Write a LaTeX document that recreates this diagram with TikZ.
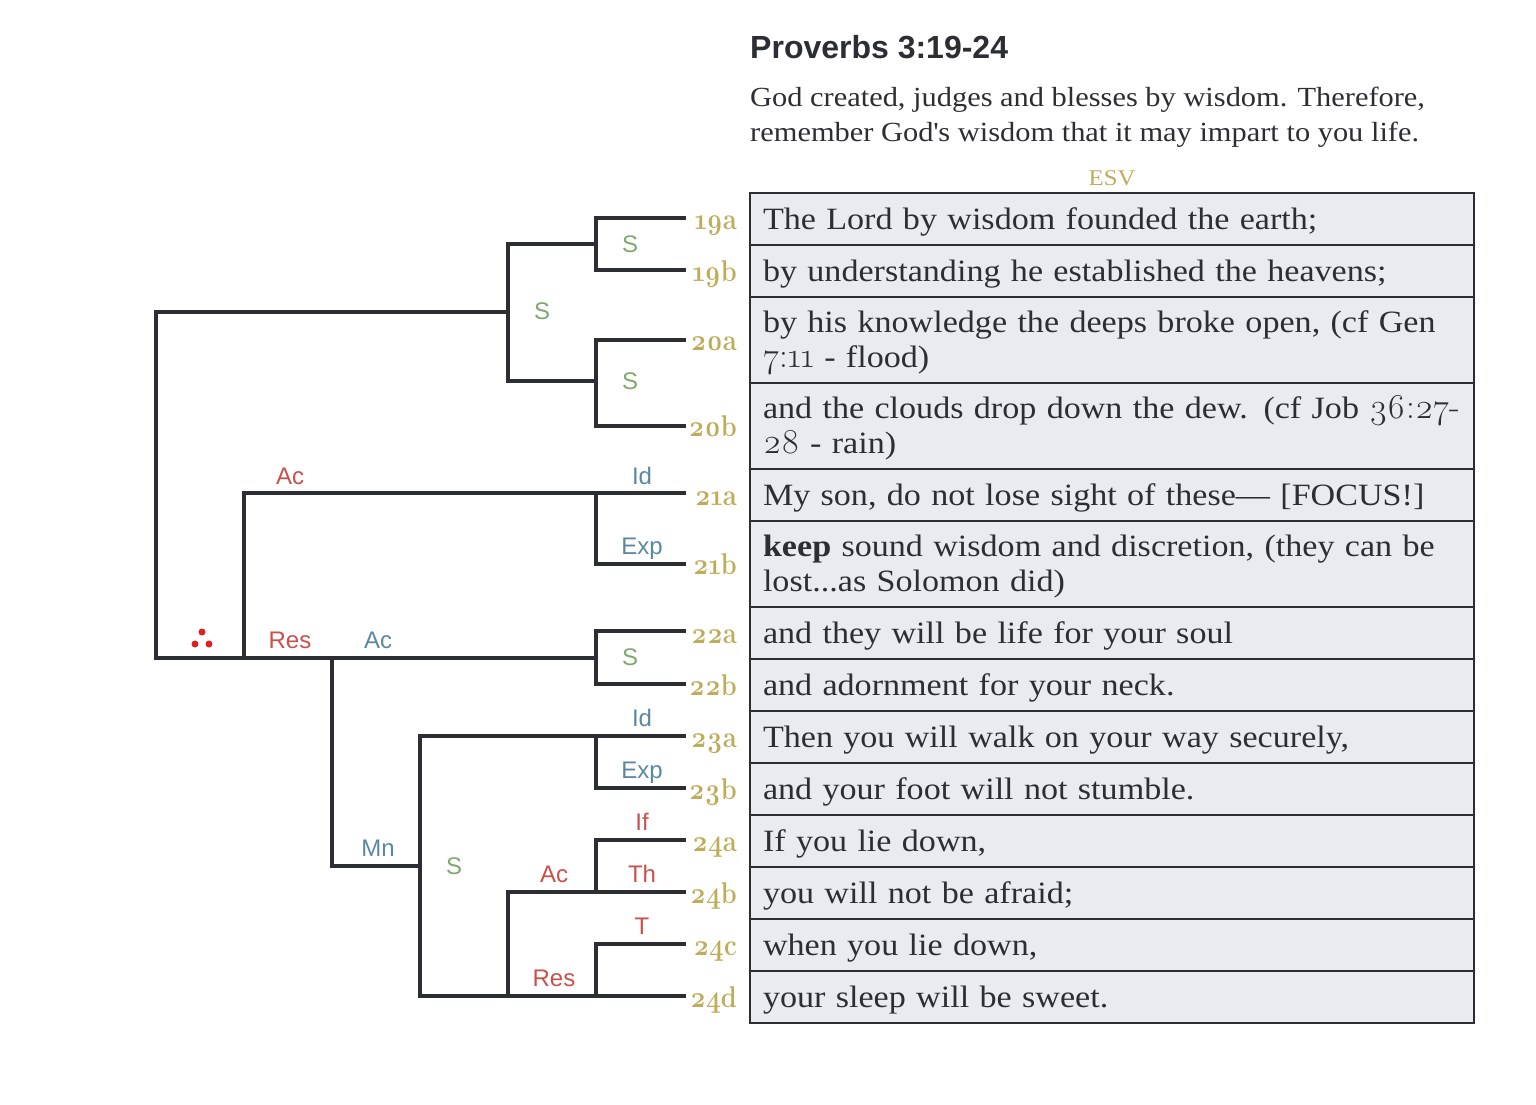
\documentclass[tikz,border=0pt]{standalone}
\usepackage{fontspec}
\usepackage{tikz}
\usetikzlibrary{positioning}
\setmainfont[FakeStretch=1.10]{Liberation Serif}
\setsansfont{Liberation Sans}
\newfontfamily\numfont[Numbers=OldStyle]{Latin Modern Roman}
\newfontfamily\versefont[Numbers=OldStyle,FakeStretch=0.85]{Latin Modern Roman}
\newcommand{\onum}[1]{{\fontsize{35}{35}\selectfont\numfont #1}}
\newcommand{\rowstrutA}{\rule[-2pt]{0pt}{29pt}}
\definecolor{inkdark}{HTML}{2D2E33}
\definecolor{rowfill}{HTML}{E8ECF1}
\definecolor{goldlab}{HTML}{BFAC5A}
\definecolor{redlab}{HTML}{C9504B}
\definecolor{bluelab}{HTML}{5B87A3}
\definecolor{greenlab}{HTML}{7FA86F}
\definecolor{dotred}{HTML}{E02020}
\tikzset{
  versebox/.style={draw=inkdark,fill=rowfill,line width=2pt,outer sep=0pt,inner xsep=13pt,inner ysep=0pt,
    text width=698pt,align=left,text=inkdark,font=\fontsize{31}{35}\selectfont,
    execute at begin node=\rowstrutA,execute at end node=\rowstrutA},
  short/.style={versebox,minimum height=52pt},
  tall/.style={versebox,minimum height=86pt},
  vnum/.style={text=goldlab,font=\fontsize{30}{30}\selectfont\versefont\bfseries,inner sep=0pt,anchor=base east},
  rel/.style={font=\fontsize{24}{26}\selectfont\sffamily,inner sep=0pt},
  redrel/.style={rel,text=redlab},
  bluerel/.style={rel,text=bluelab},
  greenrel/.style={rel,text=greenlab},
  arc/.style={draw=inkdark,line width=3.8pt,line cap=butt,line join=miter}
}
\begin{document}
\begin{tikzpicture}[x=1pt,y=-1pt,node distance=0pt]
  \useasboundingbox (0,0) rectangle (1536,1104);
  % heading
  \node[anchor=base west,inner sep=0pt,text=inkdark,font=\fontsize{32}{34}\selectfont\sffamily\bfseries] (title) at (750,58) {Proverbs 3:19-24};
  \node[anchor=north west,inner sep=0pt,align=left,text=inkdark,font=\fontsize{27.65}{35}\selectfont] (summary) at (750,86.5) {God created, judges and blesses by wisdom. Therefore,\\remember God\textquotesingle s wisdom that it may impart to you life.};
  \node[text=goldlab,inner sep=0pt,font=\fontsize{22.5}{26}\selectfont] (esv) at (1112,178) {ESV};
  % verses
  \node[short,anchor=north west] (r19a) at (750,193) {The Lord by wisdom founded the earth;};
  \node[short,below=of r19a] (r19b) {by understanding he established the heavens;};
  \node[tall,below=of r19b] (r20a) {by his knowledge the deeps broke open, (cf Gen\\\onum{7:11} - flood)};
  \node[tall,below=of r20a] (r20b) {and the clouds drop down the dew. (cf Job \onum{36:27-}\\\onum{28} - rain)};
  \node[short,below=of r20b] (r21a) {My son, do not lose sight of these--- [FOCUS!]};
  \node[tall,below=of r21a] (r21b) {\textbf{keep} sound wisdom and discretion, (they can be\\lost...as Solomon did)};
  \node[short,below=of r21b] (r22a) {and they will be life for your soul};
  \node[short,below=of r22a] (r22b) {and adornment for your neck.};
  \node[short,below=of r22b] (r23a) {Then you will walk on your way securely,};
  \node[short,below=of r23a] (r23b) {and your foot will not stumble.};
  \node[short,below=of r23b] (r24a) {If you lie down,};
  \node[short,below=of r24a] (r24b) {you will not be afraid;};
  \node[short,below=of r24b] (r24c) {when you lie down,};
  \node[short,below=of r24c] (r24d) {your sleep will be sweet.};
  % verse numbers
  \foreach \v in {19a,19b,20a,20b,21a,21b,22a,22b,23a,23b,24a,24b,24c,24d}
    \node[vnum] (v\v) at ([xshift=-13pt,yshift=-10pt]r\v.west) {\v};
  % tree ends
  \foreach \n/\y in {19a/218,19b/270,20a/340,20b/426,21a/493,21b/564,22a/631,22b/684,23a/736,23b/788,24a/840,24b/892,24c/944,24d/996}
    \coordinate (t\n) at (686,\y);
  \coordinate (rootup) at (156,312);
  \coordinate (root) at (156,658);
  \coordinate (mid) at (244,658);
  \coordinate (res) at (332,658);
  \coordinate (mn) at (332,866);
  % tree
  \draw[arc] (508,312) -- (rootup) -- (root) -- (596,658);
  \draw[arc] (t19a) -| (596,270) -- (t19b);
  \draw[arc] (t20a) -| (596,426) -- (t20b);
  \draw[arc] (596,244) -| (508,381) -- (596,381);
  \draw[arc] (t21a) -| (mid);
  \draw[arc] (596,493) |- (t21b);
  \draw[arc] (t22a) -| (596,684) -- (t22b);
  \draw[arc] (res) -- (mn) -- (420,866);
  \draw[arc] (t23a) -| (420,996) -- (t24d);
  \draw[arc] (596,736) |- (t23b);
  \draw[arc] (t24a) -| (596,892);
  \draw[arc] (t24b) -| (508,996);
  \draw[arc] (t24c) -| (596,996);
  % relations
  \node[greenrel] (s19) at (630,244) {S};
  \node[greenrel] (s1920) at (542,311) {S};
  \node[greenrel] (s20) at (630,381) {S};
  \node[redrel] (ac21) at (290,476) {Ac};
  \node[bluerel] (id21) at (642,476) {Id};
  \node[bluerel] (exp21) at (642,549) {Exp};
  \node[redrel] (res22) at (290,640) {Res};
  \node[bluerel] (ac22) at (378,640) {Ac};
  \node[greenrel] (s22) at (630,657) {S};
  \node[bluerel] (id23) at (642,718) {Id};
  \node[bluerel] (exp23) at (642,773) {Exp};
  \node[bluerel] (mn23) at (378,848) {Mn};
  \node[greenrel] (s23) at (454,866) {S};
  \node[redrel] (if24) at (642,822) {If};
  \node[redrel] (th24) at (642,874) {Th};
  \node[redrel] (ac24) at (554,874) {Ac};
  \node[redrel] (t24) at (642,926) {T};
  \node[redrel] (res24) at (554,978) {Res};
  % therefore dots
  \foreach \x/\y in {202/632,195/644,209/644}
    \fill[dotred] (\x,\y) circle (3.5pt);
\end{tikzpicture}
\end{document}
